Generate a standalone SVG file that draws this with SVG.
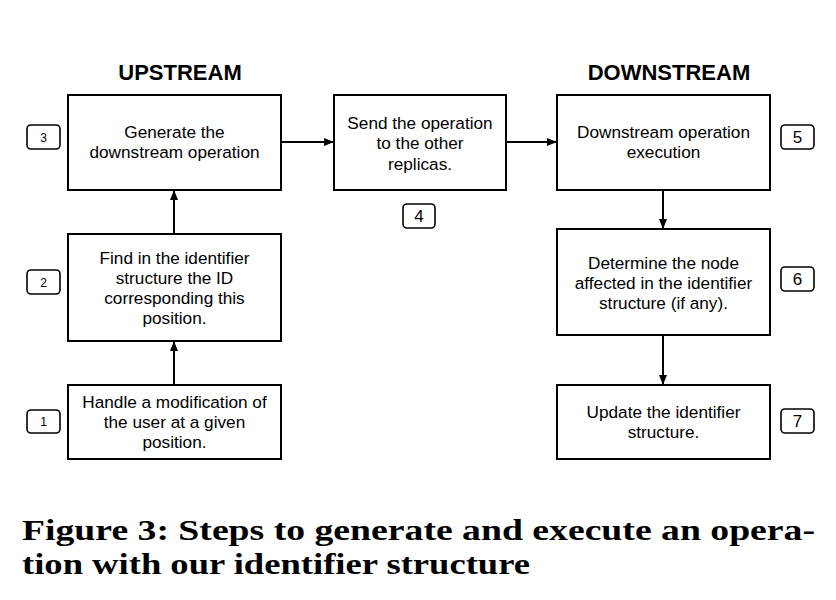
<svg xmlns="http://www.w3.org/2000/svg" width="836" height="600" viewBox="0 0 836 600">
<defs>
<style>
.box{fill:#fff;stroke:#000;stroke-width:2}
.tag{fill:#fff;stroke:#000;stroke-width:1.6}
.t{font-family:"Liberation Sans",Arial,sans-serif;font-size:17.2px;text-anchor:middle;fill:#000}
.ts{font-family:"Liberation Sans",Arial,sans-serif;font-size:12px;text-anchor:middle;fill:#000}
.tl{font-family:"Liberation Sans",Arial,sans-serif;font-size:17px;text-anchor:middle;fill:#000}
.h{font-family:"Liberation Sans",Arial,sans-serif;font-size:22px;font-weight:bold;text-anchor:middle;fill:#000}
.cap{font-family:"Liberation Serif","Times New Roman",serif;font-size:29px;font-weight:bold;fill:#000}
.c{stroke:#000;stroke-width:2;fill:none}
</style>
<marker id="ah" markerWidth="10" markerHeight="10" refX="9" refY="5" orient="auto" markerUnits="userSpaceOnUse">
<path d="M0,1 L10,5 L0,9 Z" fill="#000"/>
</marker>
</defs>
<rect width="836" height="600" fill="#fff"/>
<text class="h" x="180" y="80">UPSTREAM</text>
<text class="h" x="669" y="80">DOWNSTREAM</text>

<g id="connectors">
<line class="c" x1="281" y1="142" x2="333" y2="142" marker-end="url(#ah)"/>
<line class="c" x1="506" y1="142" x2="556" y2="142" marker-end="url(#ah)"/>
<line class="c" x1="174" y1="234" x2="174" y2="191" marker-end="url(#ah)"/>
<line class="c" x1="174" y1="385" x2="174" y2="342" marker-end="url(#ah)"/>
<line class="c" x1="663" y1="190" x2="663" y2="228" marker-end="url(#ah)"/>
<line class="c" x1="663" y1="335" x2="663" y2="384" marker-end="url(#ah)"/>
</g>

<g id="n3">
<rect class="box" x="68" y="95" width="213" height="95"/>
<text class="t" x="174.5" y="138">Generate the</text>
<text class="t" x="174.5" y="158">downstream operation</text>
<rect class="tag" x="27" y="125" width="33" height="24" rx="4"/>
<text class="ts" x="43.5" y="141.5">3</text>
</g>
<g id="n2">
<rect class="box" x="68" y="234" width="213" height="107"/>
<text class="t" x="174.5" y="264">Find in the identifier</text>
<text class="t" x="174.5" y="284">structure the ID</text>
<text class="t" x="174.5" y="304">corresponding this</text>
<text class="t" x="174.5" y="324">position.</text>
<rect class="tag" x="27" y="270" width="33" height="24" rx="4"/>
<text class="ts" x="43.5" y="286.5">2</text>
</g>
<g id="n1">
<rect class="box" x="68" y="385" width="213" height="74"/>
<text class="t" x="174.5" y="408">Handle a modification of</text>
<text class="t" x="174.5" y="428">the user at a given</text>
<text class="t" x="174.5" y="448">position.</text>
<rect class="tag" x="27" y="410" width="33" height="23" rx="4"/>
<text class="ts" x="43.5" y="426">1</text>
</g>
<g id="n4">
<rect class="box" x="334" y="95" width="172" height="95"/>
<text class="t" x="420" y="129">Send the operation</text>
<text class="t" x="420" y="149">to the other</text>
<text class="t" x="420" y="170">replicas.</text>
<rect class="tag" x="403" y="204" width="32" height="24" rx="4"/>
<text class="tl" x="419" y="222">4</text>
</g>
<g id="n5">
<rect class="box" x="557" y="95" width="213" height="95"/>
<text class="t" x="663.5" y="138">Downstream operation</text>
<text class="t" x="663.5" y="158">execution</text>
<rect class="tag" x="781" y="125" width="33" height="24" rx="4"/>
<text class="tl" x="797.5" y="143">5</text>
</g>
<g id="n6">
<rect class="box" x="557" y="229" width="213" height="106"/>
<text class="t" x="663.5" y="269">Determine the node</text>
<text class="t" x="663.5" y="289">affected in the identifier</text>
<text class="t" x="663.5" y="309">structure (if any).</text>
<rect class="tag" x="781" y="267" width="33" height="24" rx="4"/>
<text class="tl" x="797.5" y="285">6</text>
</g>
<g id="n7">
<rect class="box" x="557" y="385" width="213" height="74"/>
<text class="t" x="663.5" y="418">Update the identifier</text>
<text class="t" x="663.5" y="438">structure.</text>
<rect class="tag" x="781" y="409" width="33" height="24" rx="4"/>
<text class="tl" x="797.5" y="427">7</text>
</g>

<text class="cap" x="22" y="540" textLength="793" lengthAdjust="spacingAndGlyphs">Figure 3: Steps to generate and execute an opera-</text>
<text class="cap" x="22" y="574" textLength="508" lengthAdjust="spacingAndGlyphs">tion with our identifier structure</text>
</svg>
